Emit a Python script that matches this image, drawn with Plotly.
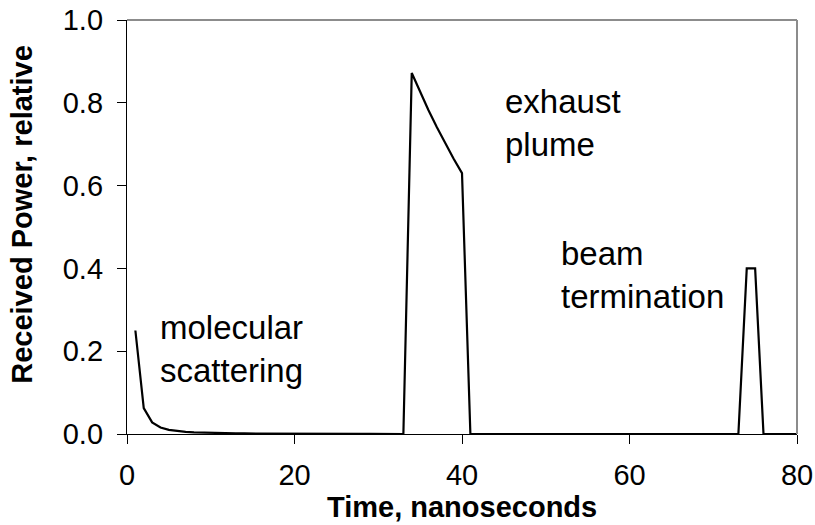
import plotly.graph_objects as go

# time samples, ns
time_ns = list(range(1, 81))

# received power (relative), one value per ns
molecular = [0.25, 0.0625, 0.028, 0.0156, 0.010, 0.0069, 0.0051, 0.0039, 0.0031, 0.0025,
             0.0021, 0.0017, 0.0015, 0.0013, 0.0011, 0.0010, 0.0009, 0.0008, 0.0007, 0.0006,
             0.0006, 0.0005, 0.0005, 0.0004, 0.0004, 0.0004, 0.0003, 0.0003, 0.0003, 0.0003,
             0.0003, 0.0002]                      # 1..32 ns
plume = [0.0, 0.872, 0.826, 0.782, 0.741, 0.702, 0.665, 0.630, 0.0]   # 33..41 ns
gap = [0.0] * 32                                  # 42..73 ns
termination = [0.40, 0.40, 0.0, 0.0, 0.0, 0.0, 0.0]                  # 74..80 ns
power = molecular + plume + gap + termination

labels = ["molecular<br>scattering", "exhaust<br>plume", "beam<br>termination"]
label_x = [3.65, 44.95, 51.55]
label_y = [0.205, 0.752, 0.384]

x_ticks = [0, 20, 40, 60, 80]
y_ticks = [0.0, 0.2, 0.4, 0.6, 0.8, 1.0]

FONT = "Liberation Sans, Arial, sans-serif"

fig = go.Figure()
fig.add_trace(go.Scatter(
    x=time_ns,
    y=power,
    mode="lines",
    line=dict(color="black", width=2.2),
    showlegend=False,
    hoverinfo="skip",
))

for text, x, y in zip(labels, label_x, label_y):
    fig.add_annotation(
        x=x, y=y, xref="x", yref="y", text=text, showarrow=False,
        xanchor="left", yanchor="middle", align="left",
        font=dict(family=FONT, size=33, color="black"),
    )

# axis titles placed by hand like the original
fig.add_annotation(
    x=0.5, y=-0.176, xref="paper", yref="paper", text="<b>Time, nanoseconds</b>",
    showarrow=False, xanchor="center", yanchor="middle",
    font=dict(family=FONT, size=29, color="black"),
)
fig.add_annotation(
    x=-0.158, y=0.53, xref="paper", yref="paper", text="<b>Received Power, relative</b>",
    showarrow=False, textangle=-90, xanchor="center", yanchor="middle",
    font=dict(family=FONT, size=29, color="black"),
)

# gray frame on top and right
fig.add_shape(type="line", xref="paper", yref="paper", x0=0, x1=1, y0=1, y1=1,
              line=dict(color="#8c8c8c", width=2))
fig.add_shape(type="line", xref="paper", yref="paper", x0=1, x1=1, y0=0, y1=1,
              line=dict(color="#8c8c8c", width=2))

fig.update_layout(
    template="none",
    width=815, height=525,
    margin=dict(l=127, r=18, t=20, b=91, autoexpand=False),
    paper_bgcolor="white", plot_bgcolor="white",
    font=dict(family=FONT, size=29, color="black"),
    xaxis=dict(
        range=[0, 80], tickvals=x_ticks, ticks="outside", ticklen=9, tickwidth=1.2,
        tickcolor="black", showline=True, linecolor="black", linewidth=1.3,
        showgrid=False, zeroline=False, ticklabelstandoff=6, automargin=False,
        tickfont=dict(family=FONT, size=29, color="black"),
    ),
    yaxis=dict(
        range=[0, 1], tickvals=y_ticks, tickformat=".1f", ticks="outside", ticklen=9,
        tickwidth=1.2, tickcolor="black", showline=True, linecolor="black", linewidth=1.3,
        showgrid=False, zeroline=False, ticklabelstandoff=8, automargin=False,
        tickfont=dict(family=FONT, size=29, color="black"),
    ),
)

# drop the page's default body margin so the figure sits at the window corner
fig.write_html(
    "out.html",
    config={"displayModeBar": False},
    post_script="document.body.style.margin='0';",
)
